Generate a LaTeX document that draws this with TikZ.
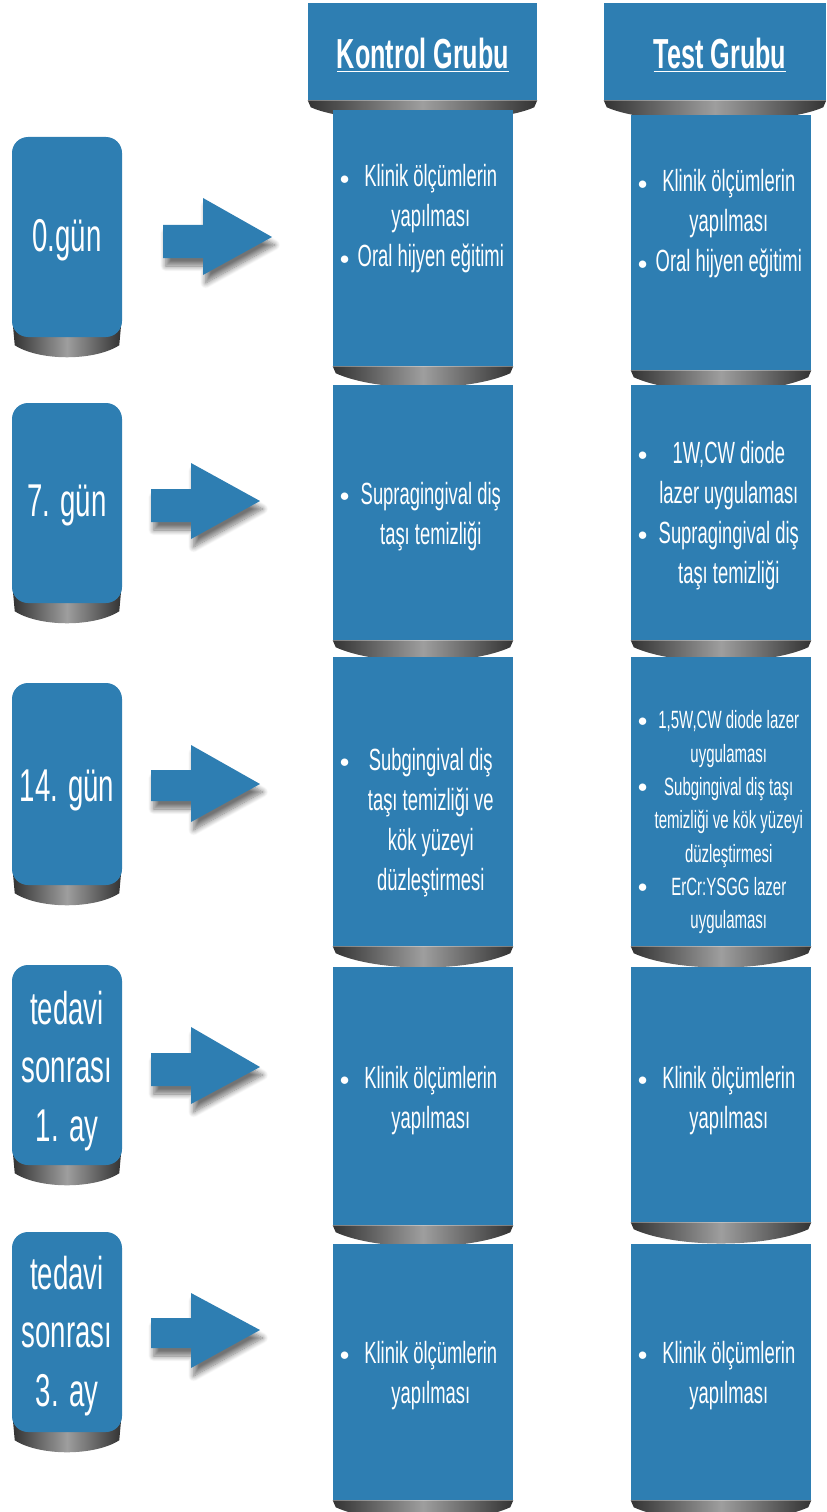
\documentclass[tikz,border=0pt]{standalone}
\usepackage{fontspec}
\usepackage{array}
\setmainfont{Liberation Sans}[FakeStretch=0.6]
\usetikzlibrary{fit,calc,backgrounds,shadows.blur}
\definecolor{boxblue}{RGB}{46,126,178}
\newcommand{\blt}{\raisebox{2pt}{\fontsize{14}{14}\selectfont$\bullet$}}
\newcolumntype{C}{>{\centering\arraybackslash}p{122pt}}

\tikzset{
  box/.style={fill=boxblue, inner sep=0pt},
  daybox/.style={fill=boxblue, inner sep=0pt, rounded corners=12pt},
  txt/.style={text=white, inner sep=0pt, font=\fontsize{23}{30}\selectfont},
  smalltxt/.style={text=white, inner sep=0pt, font=\fontsize{18.75}{25}\selectfont},
  daytxt/.style={text=white, inner sep=0pt, align=center, font=\fontsize{34.5}{44}\selectfont},
  headtxt/.style={text=white, inner sep=0pt, font=\bfseries\fontsize{31.5}{36}\selectfont},
  curl/.style={left color=black!80, right color=black!80, middle color=black!38},
  blockarrow/.style={fill=boxblue, blur shadow={shadow xshift=2pt, shadow yshift=-6pt, shadow blur steps=10, shadow blur radius=4pt, shadow opacity=55}},
}

\begin{document}
\begin{tikzpicture}[x=0.75pt,y=0.75pt,yscale=-1,xscale=1]
\useasboundingbox (0,0) rectangle (826,1512);

% headers
\node[box, fit={(308,3) (537,100)}] (kh) {};
\node[box, fit={(604,3) (826,100)}] (th) {};
\node[headtxt] (khtxt) at (423,55) {\underline{Kontrol Grubu}};
\node[headtxt] (thtxt) at (720,55) {\underline{Test Grubu}};

% days
\node[daybox, fit={(12,137) (122,337)}] (d0) {};
\node[daybox, fit={(12,403) (122,603)}] (d1) {};
\node[daybox, fit={(12,683) (122,885)}] (d2) {};
\node[daybox, fit={(12,965) (122,1165)}] (d3) {};
\node[daybox, fit={(12,1232) (122,1432)}] (d4) {};
\node[daytxt] (d0txt) at (67,240) {0.gün};
\node[daytxt] (d1txt) at (67,505) {7. gün};
\node[daytxt] (d2txt) at (67,790) {14. gün};
\node[daytxt] (d3txt) at (67,1071) {tedavi\\sonrası\\1. ay};
\node[daytxt] (d4txt) at (67,1336) {tedavi\\sonrası\\3. ay};

% kontrol column
\node[box, fit={(333,110) (513,366)}] (k0) {};
\node[box, fit={(333,385) (513,640)}] (k1) {};
\node[box, fit={(333,657) (513,946)}] (k2) {};
\node[box, fit={(333,967) (513,1225)}] (k3) {};
\node[box, fit={(333,1244) (513,1500)}] (k4) {};

% test column
\node[box, fit={(631,115) (811,370)}] (t0) {};
\node[box, fit={(631,385) (811,640)}] (t1) {};
\node[box, fit={(631,657) (811,946)}] (t2) {};
\node[box, fit={(631,967) (811,1222)}] (t3) {};
\node[box, fit={(631,1244) (811,1500)}] (t4) {};

\node[txt] (k0txt) at (426,219) {\begin{tabular}{@{}l@{}C@{}}\blt & Klinik ölçümlerin\\ & yapılması\\ \blt & Oral hijyen eğitimi\end{tabular}};
\node[txt] (t0txt) at (724,224) {\begin{tabular}{@{}l@{}C@{}}\blt & Klinik ölçümlerin\\ & yapılması\\ \blt & Oral hijyen eğitimi\end{tabular}};
\node[txt] (k1txt) at (426,516) {\begin{tabular}{@{}l@{}C@{}}\blt & Supragingival diş\\ & taşı temizliği\end{tabular}};
\node[txt] (t1txt) at (724,515) {\begin{tabular}{@{}l@{}C@{}}\blt & 1W,CW diode\\ & lazer uygulaması\\ \blt & Supragingival diş\\ & taşı temizliği\end{tabular}};
\node[txt] (k2txt) at (426,822) {\begin{tabular}{@{}l@{}C@{}}\blt & Subgingival diş\\ & taşı temizliği ve\\ & kök yüzeyi\\ & düzleştirmesi\end{tabular}};
\node[smalltxt] (t2txt) at (724,822) {\begin{tabular}{@{}l@{}C@{}}\blt & 1,5W,CW diode lazer\\ & uygulaması\\ \blt & Subgingival diş taşı\\ & temizliği ve kök yüzeyi\\ & düzleştirmesi\\ \blt & ErCr:YSGG lazer\\ & uygulaması\end{tabular}};
\node[txt] (k3txt) at (426,1100) {\begin{tabular}{@{}l@{}C@{}}\blt & Klinik ölçümlerin\\ & yapılması\end{tabular}};
\node[txt] (t3txt) at (724,1100) {\begin{tabular}{@{}l@{}C@{}}\blt & Klinik ölçümlerin\\ & yapılması\end{tabular}};
\node[txt] (k4txt) at (426,1375) {\begin{tabular}{@{}l@{}C@{}}\blt & Klinik ölçümlerin\\ & yapılması\end{tabular}};
\node[txt] (t4txt) at (724,1375) {\begin{tabular}{@{}l@{}C@{}}\blt & Klinik ölçümlerin\\ & yapılması\end{tabular}};

% arrows
\fill[blockarrow] (163,225) -- (203,225) -- (203,198) -- (272,237) -- (203,275) -- (203,258) -- (163,258) -- cycle;
\fill[blockarrow] (151,489) -- (191,489) -- (191,463) -- (260,501) -- (191,539) -- (191,522) -- (151,522) -- cycle;
\fill[blockarrow] (151,770) -- (191,770) -- (191,745) -- (260,784) -- (191,822) -- (191,801) -- (151,801) -- cycle;
\fill[blockarrow] (151,1053) -- (191,1053) -- (191,1027) -- (260,1067) -- (191,1104) -- (191,1086) -- (151,1086) -- cycle;
\fill[blockarrow] (151,1318) -- (191,1318) -- (191,1293) -- (260,1330) -- (191,1368) -- (191,1348) -- (151,1348) -- cycle;

% shadows
\begin{scope}[on background layer]
\foreach \n in {kh,th,k0,k1,k2,k3,k4,t0,t1,t2,t3,t4} {
  \shade[curl] (\n.south west) -- (\n.south east) -- ($(\n.south east)+(-3,7)$) .. controls ($(\n.south east)+(-45,26)$) and ($(\n.south west)+(45,26)$) .. ($(\n.south west)+(3,7)$) -- cycle;
}
\foreach \n in {d0,d1,d2,d3,d4} {
  \shade[curl] ($(\n.south west)+(1,-14)$) -- ($(\n.south east)+(-1,-14)$) -- ($(\n.south east)+(-3,8)$) .. controls ($(\n.south east)+(-28,24)$) and ($(\n.south west)+(28,24)$) .. ($(\n.south west)+(3,8)$) -- cycle;
}
\end{scope}

\end{tikzpicture}
\end{document}
